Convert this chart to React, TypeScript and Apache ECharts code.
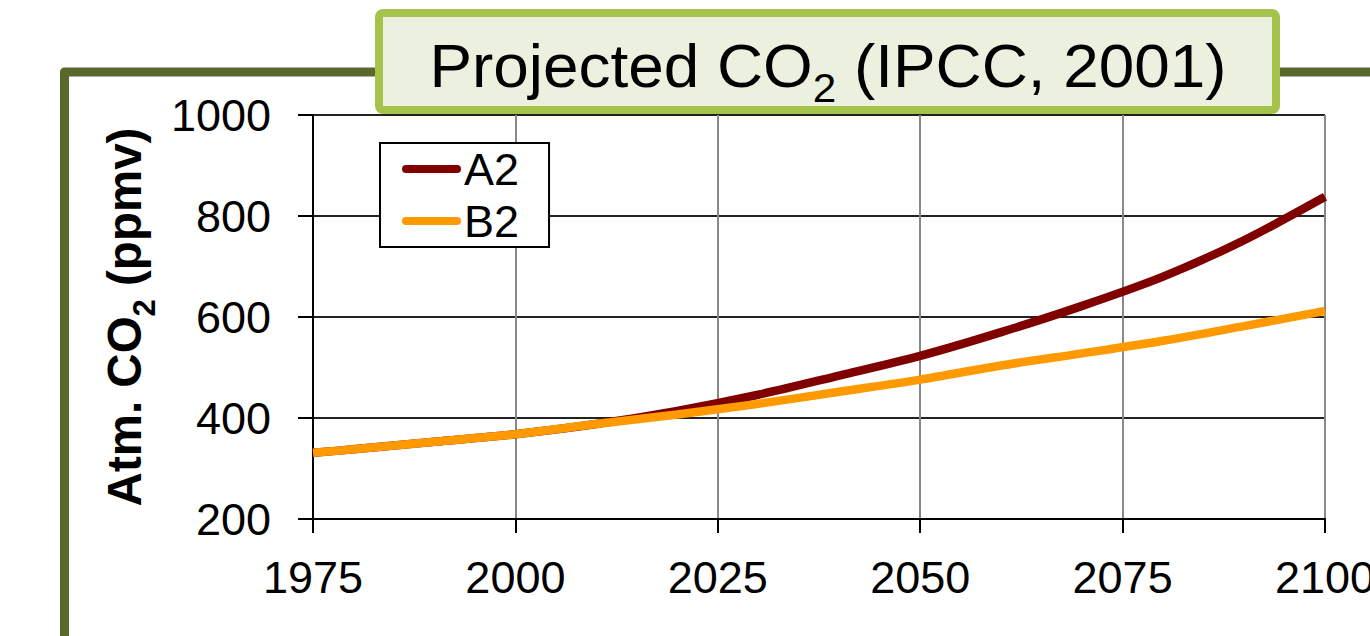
import React, { useEffect, useRef } from "react";
import * as echarts from "echarts";

const years = [1975, 1980, 1990, 2000, 2010, 2020, 2030, 2040, 2050, 2060, 2070, 2080, 2090, 2100];
const a2Values = [331, 338, 353, 368, 388, 414, 446, 484, 523, 570, 622, 680, 752, 838];
const b2Values = [331, 338, 353, 368, 388, 407, 428, 452, 476, 504, 528, 553, 582, 612];
const seriesNames = ["A2", "B2"];
const xTicks = { min: 1975, max: 2100, interval: 25 };
const yTicks = { min: 200, max: 1000, interval: 200 };

const FONT = "'Liberation Sans', Arial, Helvetica, sans-serif";

export default function App() {
  const ref = useRef<HTMLDivElement>(null);
  useEffect(() => {
    if (!ref.current) return;
    const chart = echarts.init(ref.current, null, { renderer: "svg" });
    const legendIcon = "path://M4 0 L55 0 A4 4 0 0 1 55 8 L4 8 A4 4 0 0 1 4 0 Z";
    chart.setOption({
      animation: false,
      backgroundColor: "#ffffff",
      grid: { left: 313, right: 45, top: 115, bottom: 117, containLabel: false, outerBoundsMode: "none" },
      legend: {
        orient: "vertical",
        left: 380,
        top: 143,
        padding: [0, 30, 0, 22],
        borderColor: "#000",
        borderWidth: 2,
        backgroundColor: "#fff",
        itemWidth: 59,
        itemHeight: 8,
        itemGap: 0,
        icon: legendIcon,
        textStyle: { fontSize: 45, fontFamily: FONT, color: "#000", lineHeight: 52, padding: [0, 0, 0, -2] },
        data: seriesNames,
      },
      xAxis: {
        type: "value",
        min: xTicks.min,
        max: xTicks.max,
        interval: xTicks.interval,
        axisLine: { show: true, lineStyle: { color: "#000", width: 2 } },
        axisTick: { show: true, length: 14, lineStyle: { color: "#000", width: 2 } },
        axisLabel: { fontSize: 45, fontFamily: FONT, color: "#000", margin: 36, formatter: (v: number) => String(v) },
        splitLine: { show: true, lineStyle: { color: "#888", width: 2 } },
      },
      yAxis: {
        type: "value",
        min: yTicks.min,
        max: yTicks.max,
        interval: yTicks.interval,
        name: "{a|Atm. CO}{b|2}{a| (ppmv)}",
        nameLocation: "middle",
        nameRotate: 90,
        nameGap: 137,
        nameTextStyle: {
          rich: {
            a: { fontSize: 47.5, fontWeight: "bold", fontFamily: FONT, color: "#000", lineHeight: 52, verticalAlign: "top" },
            b: { fontSize: 31, fontWeight: "bold", fontFamily: FONT, color: "#000", lineHeight: 31, verticalAlign: "top", padding: [28, 0, 0, 0] },
          },
        },
        axisLine: { show: true, lineStyle: { color: "#000", width: 2 } },
        axisTick: { show: true, length: 15, lineStyle: { color: "#000", width: 2 } },
        axisLabel: { fontSize: 45, fontFamily: FONT, color: "#000", margin: 42, formatter: (v: number) => String(v) },
        splitLine: { show: true, lineStyle: { color: "#222", width: 2 } },
      },
      series: [
        {
          name: seriesNames[0],
          type: "line",
          data: years.map((y, i) => [y, a2Values[i]]),
          smooth: 0.3,
          symbol: "none",
          color: "#800000",
          lineStyle: { width: 8.5, color: "#800000" },
          z: 3,
        },
        {
          name: seriesNames[1],
          type: "line",
          data: years.map((y, i) => [y, b2Values[i]]),
          smooth: 0.3,
          symbol: "none",
          color: "#FF9900",
          lineStyle: { width: 8.5, color: "#FF9900" },
          z: 4,
        },
      ],
      graphic: [
        {
          type: "polyline",
          z: 50,
          shape: { points: [[64.5, 700], [64.5, 72], [1400, 72]] },
          style: { stroke: "#58692B", lineWidth: 9, fill: "none", lineJoin: "round" },
        },
        {
          type: "rect",
          z: 100,
          shape: { x: 379, y: 13, width: 897, height: 97, r: 4 },
          style: { fill: "#EBF1DE", stroke: "#A5C34A", lineWidth: 8 },
        },
        {
          type: "text",
          z: 101,
          x: 828,
          y: 67,
          scaleX: 1.03,
          style: {
            text: "{a|Projected CO}{b|2}{a| (IPCC, 2001)}",
            align: "center",
            verticalAlign: "middle",
            rich: {
              a: { fontSize: 62, fontFamily: FONT, fill: "#000", lineHeight: 66, verticalAlign: "top" },
              b: { fontSize: 41, fontFamily: FONT, fill: "#000", lineHeight: 41, verticalAlign: "top", padding: [33, 0, 0, 0] },
            },
          },
        },
      ],
    });
    return () => chart.dispose();
  }, []);
  return <div ref={ref} style={{ position: "fixed", left: 0, top: 0, width: 1370, height: 636 }} />;
}
